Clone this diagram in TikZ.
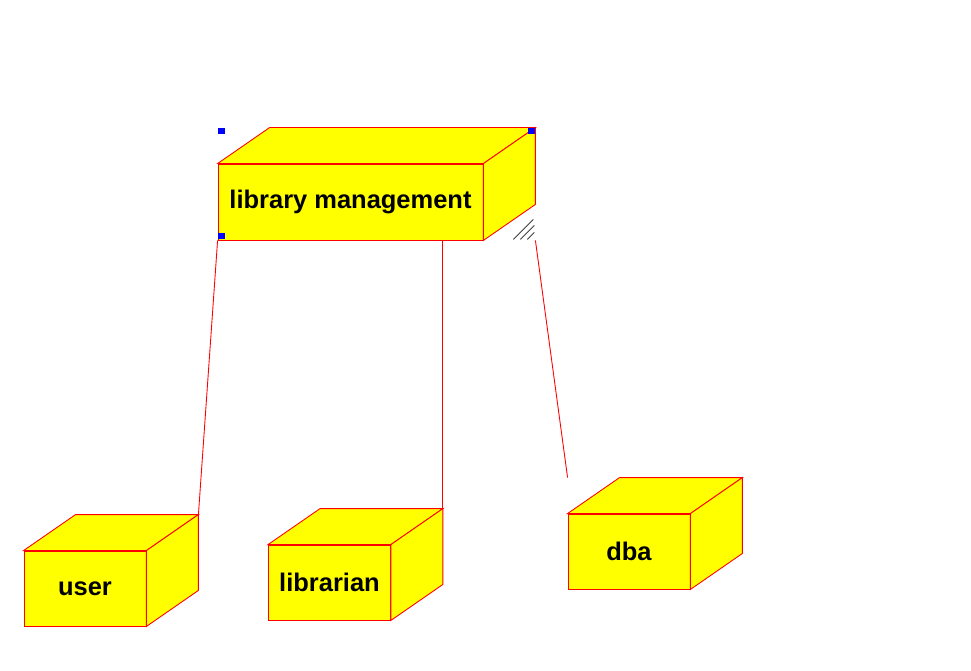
\documentclass[tikz,border=0pt]{standalone}
\usepackage{fontspec}
\setmainfont{Liberation Sans}
\usetikzlibrary{calc}
\definecolor{BoxYellow}{HTML}{FFFF00}
\definecolor{EdgeRed}{HTML}{FF0000}
\definecolor{HandleBlue}{HTML}{0000FF}
\tikzset{
  wire/.style={draw=EdgeRed,line width=0.5pt},
  front/.style={wire,fill=BoxYellow,inner sep=0pt,minimum width=2.44cm,minimum height=1.5cm,
    font=\bfseries\fontsize{14.5}{16}\selectfont},
  hatch/.style={draw=black!75,line width=0.5pt},
}
% top and right faces of a node box
\newcommand{\boxdepth}[1]{%
  \filldraw[wire,fill=BoxYellow] (#1.north west) -- ++(52,-36) -- ($(#1.north east)+(52,-36)$) -- (#1.north east) -- cycle;
  \filldraw[wire,fill=BoxYellow] (#1.north east) -- ++(52,-36) -- ($(#1.south east)+(52,-36)$) -- (#1.south east) -- cycle;
  \coordinate (#1-back) at ($(#1.north east)+(52,-36)$);}

\begin{document}
\begin{tikzpicture}[x=0.02cm,y=-0.02cm]
  \useasboundingbox (0,0) rectangle (971,671);
  \node[front,minimum width=5.3cm,minimum height=1.52cm] (lm) at (350.5,202) {library management};
  \node[front] (user) at (85,588.5) {user};
  \node[front] (lib) at (329.5,582.5) {librarian};
  \node[front] (dba) at (629,551.5) {dba};
  \foreach \n in {lm,user,lib,dba} {\boxdepth{\n}}
  % links
  \draw[wire] (lm.south west) -- (user-back);
  \draw[wire] (lib-back |- lm.south) -- (lib-back);
  \draw[wire] (lm-back |- lm.south) -- (dba.north west |- dba-back);
  \foreach \d/\l in {0/20,7/14,14/7}
    \draw[hatch] ($(lm-back |- lm.south)+(-22+\d,-1)$) -- ++(\l,-\l);
  % selection handles
  \fill[HandleBlue] ($(lm.north west)+(0,-36)$) rectangle ++(7,6);
  \fill[HandleBlue] ($(lm-back)+(-7,0)$) rectangle ++(7,6);
  \fill[HandleBlue] ($(lm.south west)+(0,-7)$) rectangle ++(7,6);
\end{tikzpicture}
\end{document}
